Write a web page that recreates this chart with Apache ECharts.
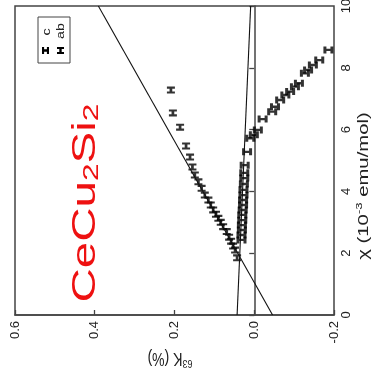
<!DOCTYPE html>
<html><head><meta charset="utf-8">
<script src="https://cdn.jsdelivr.net/npm/echarts@6/dist/echarts.min.js"></script>
<style>html,body{margin:0;padding:0;background:#fff}#c{width:381px;height:375px}</style>
</head><body><div id="c"></div>
<script>
// ---- data (K in %, chi in 1e-3 emu/mol) ----
const kTicks = [-0.2, 0.0, 0.2, 0.4, 0.6];
const chiTicks = [0, 2, 4, 6, 8, 10];
const seriesNames = ['c', 'ab'];
const abChi = [1.85,2.10,2.23,2.39,2.52,2.70,2.86,3.00,3.13,3.26,3.40,3.56,3.72,3.88,4.10,4.31,4.53,4.79,5.11,5.47,6.08,6.54,7.28];
const abK   = [0.043,0.048,0.053,0.058,0.063,0.069,0.078,0.084,0.090,0.096,0.103,0.109,0.115,0.124,0.132,0.140,0.149,0.155,0.161,0.171,0.186,0.204,0.209];
const cChi = [2.43,2.59,2.75,2.91,3.07,3.24,3.40,3.56,3.72,3.88,4.05,4.24,4.43,4.60,4.85,5.28,5.72,5.83,5.99,6.34,6.58,6.74,6.96,7.12,7.23,7.39,7.50,7.82,7.93,8.09,8.25,8.58];
const cK   = [0.032,0.032,0.031,0.031,0.030,0.030,0.029,0.028,0.028,0.027,0.027,0.026,0.025,0.025,0.024,0.018,0.010,0.001,-0.009,-0.021,-0.045,-0.052,-0.065,-0.078,-0.090,-0.102,-0.112,-0.127,-0.135,-0.147,-0.163,-0.186];
const fitSteepChi = [0, 10];
const fitSteepK   = [-0.046, 0.391];
const fitFlatChi  = [0, 10];
const fitFlatK    = [0.043, 0.009];

// ---- build ----
const pairs = (ks, cs) => ks.map((k, i) => [k, cs[i]]);
const hPts = [[0,0],[3,0],[3,3.3],[7,3.3],[7,0],[10,0],[10,10],[7,10],[7,6.7],[3,6.7],[3,10],[0,10]];
const iPts = [[0,0],[10,0],[10,3],[6.7,3],[6.7,7],[10,7],[10,10],[0,10],[0,7],[3.3,7],[3.3,3],[0,3]];
const toPath = pts => 'path://M' + pts.map(p => p[0] + ',' + p[1]).join('L') + 'Z';
const place = (pts, x, y, w, h) => pts.map(p => [x + p[0] * w / 10, y + p[1] * h / 10]);
const ink = '#000';
const font = 'Liberation Sans, Arial, sans-serif';
const chart = echarts.init(document.getElementById('c'));
chart.setOption({
  animation: false,
  backgroundColor: '#fff',
  grid: {left: 15, right: 47, top: 6, bottom: 60, show: true, borderColor: '#444', borderWidth: 1.5, containLabel: false, outerBoundsMode: 'none'},
  xAxis: {
    type: 'value', inverse: true, position: 'bottom',
    min: kTicks[0], max: kTicks[kTicks.length-1], interval: 0.2,
    splitLine: {show: false},
    axisLine: {lineStyle: {color: '#444', width: 1.5}},
    axisTick: {inside: true, length: 5, lineStyle: {color: '#444', width: 1.3}},
    axisLabel: {rotate: 90, margin: 6, fontSize: 13, color: '#222', fontFamily: font,
      formatter: v => v.toFixed(1)}
  },
  yAxis: {
    type: 'value', position: 'right',
    min: chiTicks[0], max: chiTicks[chiTicks.length-1], interval: 2,
    splitLine: {show: false},
    axisLine: {lineStyle: {color: '#444', width: 1.5}},
    axisTick: {inside: true, length: 5, lineStyle: {color: '#444', width: 1.3}},
    axisLabel: {rotate: 90, margin: 6, fontSize: 13, color: '#222', fontFamily: font}
  },
  series: [
    {type: 'line', data: pairs(fitSteepK, fitSteepChi), showSymbol: false, silent: true,
      lineStyle: {color: '#111', width: 1.1}},
    {type: 'line', data: pairs(fitFlatK, fitFlatChi), showSymbol: false, silent: true,
      lineStyle: {color: '#111', width: 1.1}},
    {name: seriesNames[0], type: 'scatter', data: pairs(cK, cChi), symbol: toPath(hPts), symbolSize: [10, 7],
      itemStyle: {color: ink}},
    {name: seriesNames[1], type: 'scatter', data: pairs(abK, abChi), symbol: toPath(iPts), symbolSize: [8, 7],
      itemStyle: {color: ink}}
  ],
  graphic: [
    {type: 'text', x: 86, y: 203, rotation: Math.PI/2, scaleX: 1.44, scaleY: 1,
      style: {text: 'CeCu{s|2}Si{s|2}', fill: '#ee1111', font: '33px ' + font,
        align: 'center', verticalAlign: 'middle',
        rich: {s: {fontSize: 22, fill: '#ee1111', verticalAlign: 'bottom', lineHeight: 20, padding: [14, 0, 0, 0]}}}},
    {type: 'text', x: 364, y: 186, rotation: Math.PI/2, scaleX: 1.45,
      style: {text: 'χ (10{p|-3} emu/mol)', fill: '#222', font: '14px ' + font,
        align: 'center', verticalAlign: 'middle',
        rich: {p: {fontSize: 9, fill: '#222', verticalAlign: 'top', padding: [0, 0, 8, 0]}}}},
    {type: 'text', x: 170, y: 358, rotation: Math.PI, scaleY: 1.3,
      style: {text: '{p|63}K (%)', fill: '#222', font: '14px ' + font,
        align: 'center', verticalAlign: 'middle',
        rich: {p: {fontSize: 9, fill: '#222', verticalAlign: 'top', padding: [0, 0, 8, 0]}}}},
    {type: 'rect', shape: {x: 38, y: 17, width: 32, height: 46}, style: {fill: '#fff', stroke: '#444', lineWidth: 1}},
    {type: 'text', x: 47, y: 32, rotation: Math.PI/2, scaleX: 1.3,
      style: {text: seriesNames[0], fill: '#222', font: '11px ' + font, align: 'center', verticalAlign: 'middle'}},
    {type: 'text', x: 61, y: 31, rotation: Math.PI/2, scaleX: 1.3,
      style: {text: seriesNames[1], fill: '#222', font: '11px ' + font, align: 'center', verticalAlign: 'middle'}},
    {type: 'polygon', shape: {points: place(hPts, 42, 47, 7, 7)}, style: {fill: ink}},
    {type: 'polygon', shape: {points: place(iPts, 57, 47, 7, 7)}, style: {fill: ink}}
  ]
});
</script></body></html>
